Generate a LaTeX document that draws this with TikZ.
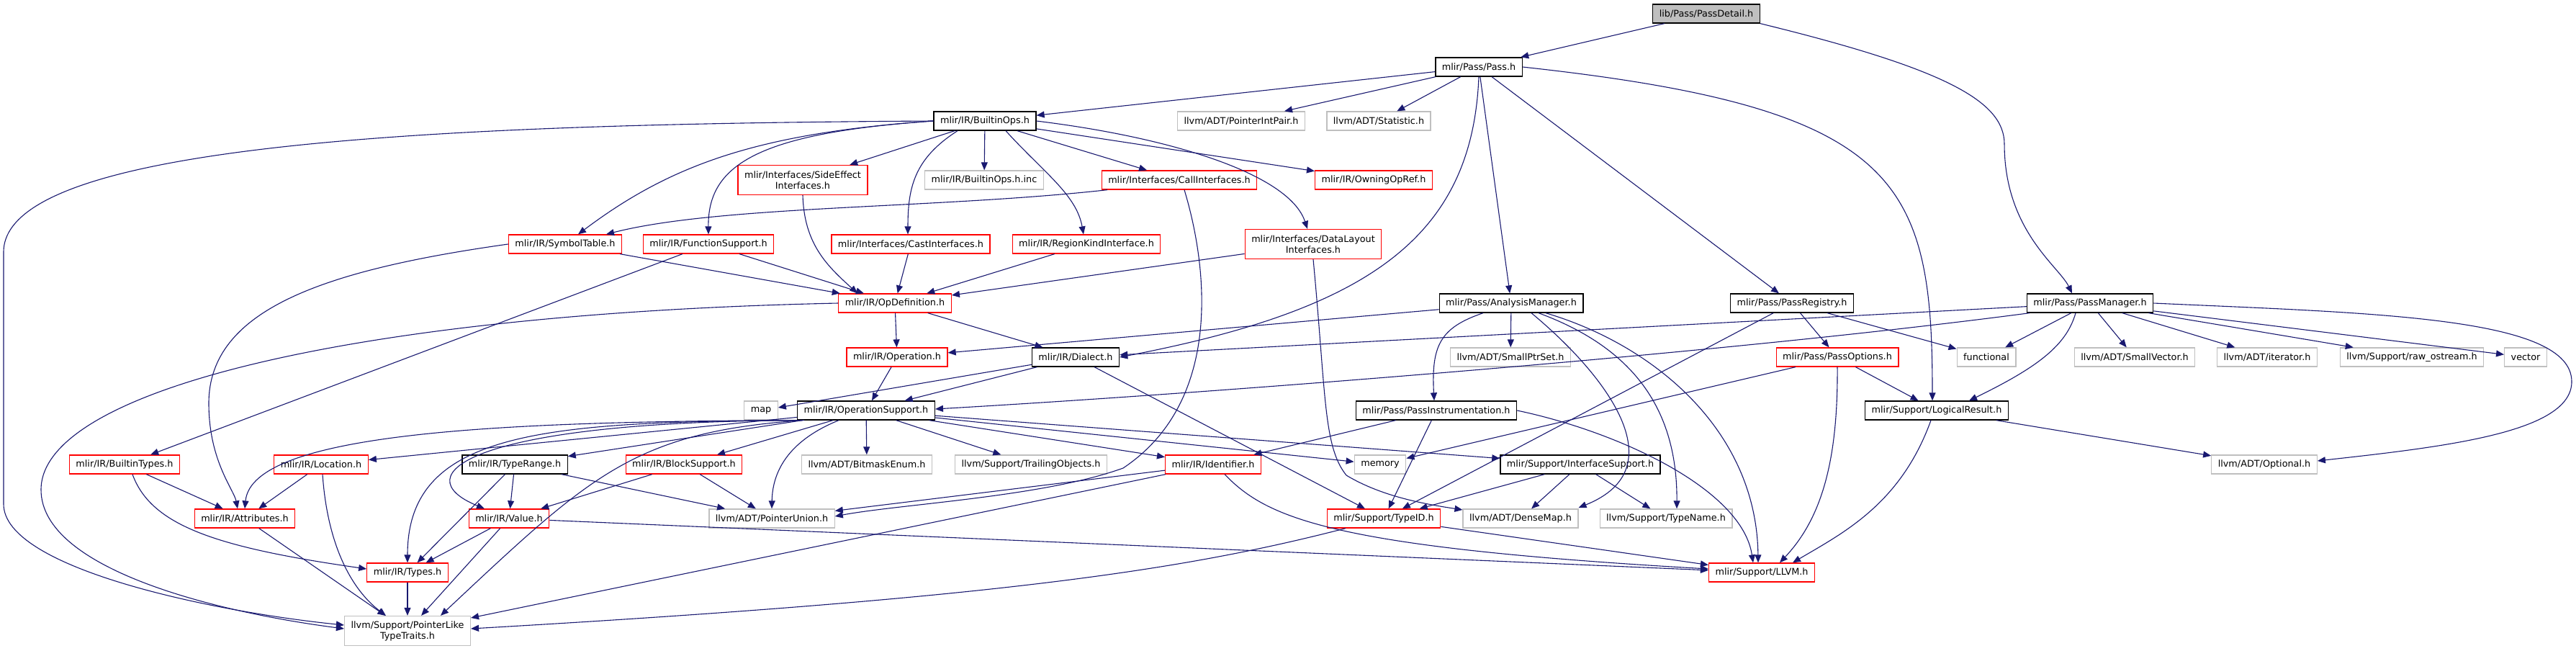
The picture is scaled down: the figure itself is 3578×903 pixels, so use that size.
\documentclass[tikz,border=0pt]{standalone}
\usepackage{fontspec}
\setmainfont{DejaVu Sans}
\usetikzlibrary{arrows.meta}
\definecolor{edgeblue}{HTML}{191970}
\definecolor{rootgray}{HTML}{BFBFBF}
\definecolor{extgray}{HTML}{BFBFBF}
\definecolor{truncred}{HTML}{FF0000}

\begin{document}
\begin{tikzpicture}[x=1pt,y=-1pt,>={Triangle[length=11pt,width=9pt]},
    file/.style={draw=black,line width=1.3pt,fill=white,inner xsep=9pt,inner ysep=0pt,
      minimum height=26pt,align=center,font=\fontsize{12.8}{15}\selectfont},
    rootfile/.style={file,fill=rootgray},
    truncfile/.style={file,draw=truncred},
    extfile/.style={file,draw=extgray},
    twoline/.style={minimum height=41pt},
    dep/.style={draw=edgeblue,line width=1.1pt,->}]
    \useasboundingbox (0,0) rectangle (3578,903);
    % top of the graph
    \node[rootfile] (root) at (2370,19) {lib/Pass/PassDetail.h};
    \node[file] (pass) at (2054,93) {mlir/Pass/Pass.h};
    \node[file] (builtinops) at (1368,168) {mlir/IR/BuiltinOps.h};
    \node[extfile] (ptrintpair) at (1724,168) {llvm/ADT/PointerIntPair.h};
    \node[extfile] (statistic) at (1915,168) {llvm/ADT/Statistic.h};
    \node[truncfile,twoline] (sideeffect) at (1115,250) {mlir/Interfaces/SideEffect\\Interfaces.h};
    \node[extfile] (opsinc) at (1367,250) {mlir/IR/BuiltinOps.h.inc};
    \node[truncfile] (callif) at (1638,250) {mlir/Interfaces/CallInterfaces.h};
    \node[truncfile] (owningop) at (1908,250) {mlir/IR/OwningOpRef.h};
    \node[truncfile] (symtab) at (785,339) {mlir/IR/SymbolTable.h};
    \node[truncfile] (funcsupp) at (984,339) {mlir/IR/FunctionSupport.h};
    \node[truncfile] (castif) at (1265,339) {mlir/Interfaces/CastInterfaces.h};
    \node[truncfile] (regionkind) at (1509,339) {mlir/IR/RegionKindInterface.h};
    \node[truncfile,twoline] (datalayout) at (1824,339) {mlir/Interfaces/DataLayout\\Interfaces.h};
    \node[truncfile] (opdef) at (1243,421) {mlir/IR/OpDefinition.h};
    \node[file] (analysis) at (2099,421) {mlir/Pass/AnalysisManager.h};
    \node[file] (registry) at (2489,421) {mlir/Pass/PassRegistry.h};
    \node[file] (passmgr) at (2903,421) {mlir/Pass/PassManager.h};
    % middle rows
    \node[truncfile] (operation) at (1246,496) {mlir/IR/Operation.h};
    \node[file] (dialect) at (1494,496) {mlir/IR/Dialect.h};
    \node[extfile] (smallptrset) at (2098,496) {llvm/ADT/SmallPtrSet.h};
    \node[truncfile] (passopts) at (2552,496) {mlir/Pass/PassOptions.h};
    \node[extfile] (functional) at (2759,496) {functional};
    \node[extfile] (smallvector) at (2965,496) {llvm/ADT/SmallVector.h};
    \node[extfile] (iterator) at (3149,496) {llvm/ADT/iterator.h};
    \node[extfile] (rawostream) at (3350,496) {llvm/Support/raw\_ostream.h};
    \node[extfile] (vector) at (3508,496) {vector};
    \node[extfile] (map) at (1057,570) {map};
    \node[file] (opsupport) at (1203,570) {mlir/IR/OperationSupport.h};
    \node[file] (passinstr) at (1995,570) {mlir/Pass/PassInstrumentation.h};
    \node[file] (logical) at (2690,570) {mlir/Support/LogicalResult.h};
    \node[truncfile] (builtintypes) at (173,645) {mlir/IR/BuiltinTypes.h};
    \node[truncfile] (location) at (446,645) {mlir/IR/Location.h};
    \node[file] (typerange) at (715,645) {mlir/IR/TypeRange.h};
    \node[truncfile] (blocksupport) at (950,645) {mlir/IR/BlockSupport.h};
    \node[extfile] (bitmask) at (1204,645) {llvm/ADT/BitmaskEnum.h};
    \node[extfile] (trailing) at (1432,645) {llvm/Support/TrailingObjects.h};
    \node[truncfile] (identifier) at (1685,645) {mlir/IR/Identifier.h};
    \node[extfile] (memory) at (1917,645) {memory};
    \node[file] (ifacesupport) at (2195,645) {mlir/Support/InterfaceSupport.h};
    \node[extfile] (optional) at (3145,645) {llvm/ADT/Optional.h};
    % bottom rows
    \node[truncfile] (attributes) at (340,720) {mlir/IR/Attributes.h};
    \node[truncfile] (value) at (707,720) {mlir/IR/Value.h};
    \node[extfile] (ptrunion) at (1072,720) {llvm/ADT/PointerUnion.h};
    \node[truncfile] (typeid) at (1922,720) {mlir/Support/TypeID.h};
    \node[extfile] (densemap) at (2112,720) {llvm/ADT/DenseMap.h};
    \node[extfile] (typename) at (2314,720) {llvm/Support/TypeName.h};
    \node[truncfile] (types) at (566,795) {mlir/IR/Types.h};
    \node[truncfile] (llvm) at (2447,795) {mlir/Support/LLVM.h};
    \node[extfile,twoline] (ptrlike) at (566,876) {llvm/Support/PointerLike\\TypeTraits.h};

    % straight includes
    \foreach \a/\b in {root/pass,pass/builtinops,pass/ptrintpair,pass/statistic,pass/analysis,
      pass/registry,builtinops/sideeffect,builtinops/opsinc,builtinops/callif,builtinops/owningop,
      symtab/opdef,funcsupp/opdef,funcsupp/builtintypes,castif/opdef,regionkind/opdef,
      datalayout/opdef,opdef/operation,opdef/dialect,operation/opsupport,dialect/opsupport,
      dialect/map,dialect/typeid,analysis/operation,analysis/smallptrset,registry/typeid,
      registry/passopts,registry/functional,passmgr/dialect,passmgr/functional,
      passmgr/smallvector,passmgr/iterator,passmgr/rawostream,passmgr/vector,passopts/memory,
      passopts/logical,logical/optional,passinstr/identifier,passinstr/typeid,opsupport/location,
      opsupport/typerange,opsupport/blocksupport,opsupport/bitmask,opsupport/trailing,
      opsupport/identifier,opsupport/memory,opsupport/ifacesupport,builtintypes/attributes,
      location/attributes,typerange/value,typerange/types,typerange/ptrunion,blocksupport/value,
      blocksupport/ptrunion,attributes/ptrlike,value/types,value/ptrlike,value/llvm,types/ptrlike,
      identifier/ptrunion,identifier/ptrlike,typeid/llvm,ifacesupport/typeid,
      ifacesupport/densemap,ifacesupport/typename}
      \draw[dep] (\a) -- (\b);

    % curved includes
    \draw[dep] (root.south east) .. controls (2700,95) and (2784,140) .. (2784,200)
      .. controls (2784,320) and (2860,370) .. ([xshift=-25pt]passmgr.north);
    \draw[dep] (pass.south) .. controls (2045,330) and (1900,430) .. (dialect.east);
    \draw[dep] (pass.east) .. controls (2640,150) and (2684,250) .. ([xshift=-6pt]logical.north);
    \draw[dep] ([xshift=-84pt]passmgr.south) .. controls (2400,490) and (1700,545) .. ([yshift=2pt]opsupport.east);
    \draw[dep] (builtinops.west) .. controls (600,172) and (5,200) .. (5,350) -- (5,700)
      .. controls (5,790) and (300,850) .. ([yshift=8pt]ptrlike.west);
    \draw[dep] (builtinops.west) .. controls (1050,185) and (930,230) .. ([xshift=18pt]symtab.north);
    \draw[dep] (builtinops.west) .. controls (1050,185) and (983,230) .. (funcsupp.north);
    \draw[dep] ([xshift=-38pt]builtinops.south) .. controls (1270,220) and (1261,260) .. ([xshift=-4pt]castif.north);
    \draw[dep] ([xshift=29pt]builtinops.south) .. controls (1450,240) and (1495,270) .. ([xshift=-4pt]regionkind.north);
    \draw[dep] (builtinops.east) .. controls (1620,190) and (1790,240) .. ([xshift=-8pt]datalayout.north);
    \draw[dep] (sideeffect.south) .. controls (1117,340) and (1150,370) .. ([xshift=-52pt]opdef.north);
    \draw[dep] (symtab.west) .. controls (450,375) and (290,430) .. (290,560)
      .. controls (290,640) and (325,680) .. ([xshift=-10pt]attributes.north);
    \draw[dep] ([xshift=-100pt]callif.south) .. controls (1300,290) and (1000,285) .. ([xshift=57pt]symtab.north);
    \draw[dep] ([xshift=7pt]callif.south) .. controls (1680,380) and (1695,560) .. (1560,650)
      .. controls (1450,690) and (1250,700) .. ([yshift=3pt]ptrunion.east);
    \draw[dep] (datalayout.south) .. controls (1842,550) and (1838,620) .. (1870,660)
      .. controls (1920,690) and (1980,700) .. ([yshift=12pt]densemap.west);
    \draw[dep] (opdef.west) .. controls (500,435) and (57,540) .. (57,680)
      .. controls (57,790) and (300,850) .. ([yshift=3pt]ptrlike.west);
    \draw[dep] ([xshift=-39pt]analysis.south) .. controls (2000,455) and (1988,480) .. ([xshift=-3pt]passinstr.north);
    \draw[dep] ([xshift=28pt]analysis.south) .. controls (2230,520) and (2330,650) .. ([yshift=15pt]densemap.east);
    \draw[dep] ([xshift=38pt]analysis.south) .. controls (2260,480) and (2330,560) .. ([xshift=15pt]typename.north);
    \draw[dep] ([xshift=48pt]analysis.south) .. controls (2300,480) and (2440,600) .. ([xshift=-5pt]llvm.north);
    \draw[dep] (passinstr.east) .. controls (2250,600) and (2420,680) .. ([xshift=-12pt]llvm.north);
    \draw[dep] ([xshift=-93pt]opsupport.south) .. controls (700,585) and (350,600) .. (attributes.north);
    \draw[dep] ([xshift=-86pt]opsupport.south) .. controls (750,585) and (566,600) .. (types.north);
    \draw[dep] ([xshift=-90pt]opsupport.south) .. controls (650,585) and (560,660) .. ([xshift=-34pt]value.north);
    \draw[dep] ([xshift=-88pt]opsupport.south) .. controls (880,600) and (820,660) .. ([xshift=46pt]ptrlike.north);
    \draw[dep] ([xshift=-38pt]opsupport.south) .. controls (1100,610) and (1073,650) .. (ptrunion.north);
    \draw[dep] ([xshift=11pt]builtintypes.south) .. controls (210,730) and (300,760) .. ([yshift=5pt]types.west);
    \draw[dep] ([xshift=2pt]location.south) .. controls (455,760) and (490,820) .. ([xshift=-30pt]ptrlike.north);
    \draw[dep] ([xshift=16pt]identifier.south) .. controls (1760,720) and (1850,760) .. ([yshift=5pt]llvm.west);
    \draw[dep] ([xshift=-53pt]typeid.south) .. controls (1650,790) and (1400,830) .. ([yshift=3pt]ptrlike.east);
    \draw[dep] ([xshift=-20pt]passmgr.south) .. controls (2870,480) and (2830,510) .. ([xshift=45pt]logical.north);
    \draw[dep] (passmgr.east) .. controls (3300,435) and (3572,440) .. (3572,530)
      .. controls (3572,600) and (3400,620) .. ([yshift=5pt]optional.east);
    \draw[dep] ([xshift=-8pt]logical.south) .. controls (2640,700) and (2560,740) .. ([xshift=43pt]llvm.north);
    \draw[dep] (passopts.south) .. controls (2553,640) and (2530,720) .. ([xshift=25pt]llvm.north);
  \end{tikzpicture}
\end{document}
